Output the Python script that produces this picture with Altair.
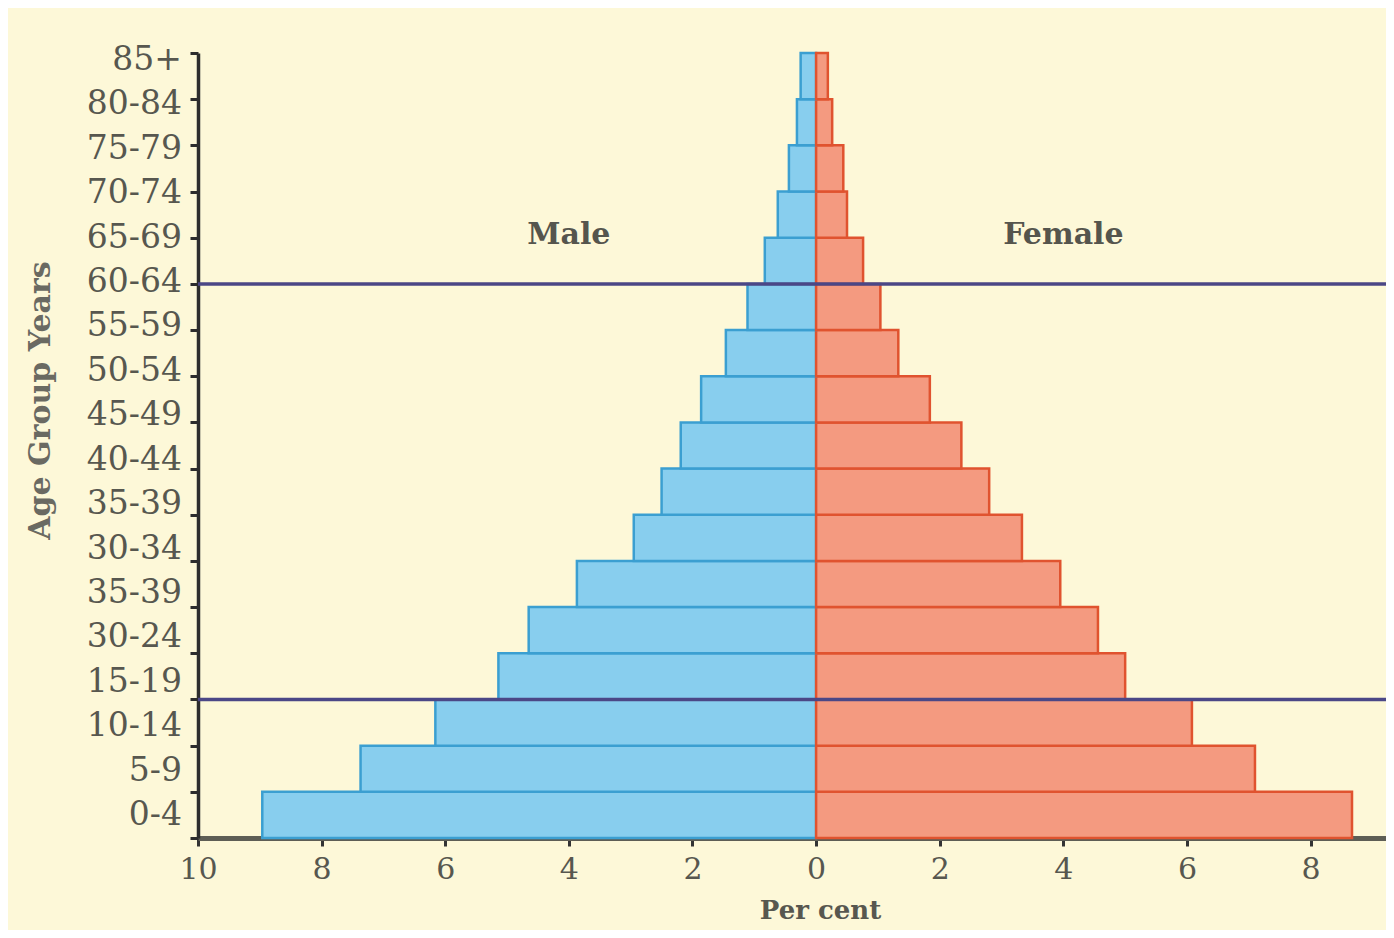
import altair as alt
import pandas as pd

# ---- data ----
age_labels = ["0-4", "5-9", "10-14", "15-19", "30-24", "35-39", "30-34", "35-39",
              "40-44", "45-49", "50-54", "55-59", "60-64", "65-69", "70-74",
              "75-79", "80-84", "85+"]
# bars sit between consecutive ticks, bottom (0) to top (16)
male_pct = [8.96, 7.37, 6.16, 5.14, 4.65, 3.87, 2.95, 2.50, 2.19, 1.86,
            1.46, 1.11, 0.83, 0.62, 0.44, 0.31, 0.25]
female_pct = [8.67, 7.10, 6.08, 5.00, 4.56, 3.95, 3.33, 2.80, 2.35, 1.84,
              1.33, 1.04, 0.76, 0.50, 0.44, 0.26, 0.19]
x_tick_values = [-10, -8, -6, -4, -2, 0, 2, 4, 6, 8]
divider_ticks = [3, 12]
sex_names = ["Male", "Female"]
annot_x = [-4.0, 4.0]
annot_y = [13.05, 13.05]

n_bars = len(male_pct)
rows = []
for i in range(n_bars):
    rows.append({"lo": i, "hi": i + 1, "sex": "Male", "start": -male_pct[i], "end": 0})
    rows.append({"lo": i, "hi": i + 1, "sex": "Female", "start": 0, "end": female_pct[i]})
bars_df = pd.DataFrame(rows)
labels_df = pd.DataFrame({"idx": list(range(len(age_labels))), "label": age_labels})
div_df = pd.DataFrame({"tick": divider_ticks})
annot_df = pd.DataFrame({"text": sex_names, "x": annot_x, "y": annot_y})

W, H = 1188, 785
SERIF = "DejaVu Serif"
TXT = "#57574f"

xscale = alt.Scale(domain=[-10, 9.22], nice=False, zero=False)
yscale = alt.Scale(domain=[0, n_bars], nice=False, zero=False)

bars = alt.Chart(bars_df).mark_bar(strokeWidth=2.5).encode(
    x=alt.X("start:Q", scale=xscale,
            axis=alt.Axis(values=x_tick_values, labelExpr="format(abs(datum.value), 'd')",
                          grid=False, domainColor="#5e5e55", domainWidth=5,
                          tickColor="#333333", tickWidth=3, tickSize=8,
                          labelFont=SERIF, labelFontSize=30, labelColor=TXT,
                          labelFlush=False, labelPadding=8,
                          title="Per cent", titleFont=SERIF,
                          titleFontSize=26, titleFontWeight="bold", titleColor=TXT,
                          titleX=622, titleY=72, titleBaseline="middle",
                          titleAlign="center")),
    x2="end:Q",
    y=alt.Y("lo:Q", scale=yscale,
            axis=alt.Axis(values=list(range(n_bars + 1)), labels=False, grid=False,
                          domainColor="#2d2d2d", domainWidth=3.5,
                          tickColor="#2d2d2d", tickWidth=3, tickSize=8,
                          title="Age Group Years", titleFont=SERIF, titleFontSize=30,
                          titleFontWeight="bold", titleColor="#6a6a62",
                          titleX=-158, titleY=347, titleAngle=270,
                          titleAlign="center", titleBaseline="middle")),
    y2="hi:Q",
    fill=alt.Fill("sex:N", scale=alt.Scale(domain=sex_names, range=["#88ceee", "#f49a80"]),
                  legend=None),
    stroke=alt.Stroke("sex:N", scale=alt.Scale(domain=sex_names, range=["#3b9fd1", "#e0532f"]),
                      legend=None),
)

rules = alt.Chart(div_df).mark_rule(color="#4b4786", strokeWidth=3.5).encode(
    y=alt.Y("tick:Q", scale=yscale, axis=None),
    x=alt.value(0),
    x2=alt.value(W),
)

labels = alt.Chart(labels_df).mark_text(
    align="right", baseline="middle", font=SERIF, fontSize=33, color=TXT
).encode(
    y=alt.Y("idx:O", scale=alt.Scale(type="point", range=[762, 7], padding=0),
            axis=None, sort="ascending"),
    x=alt.value(-16),
    text="label:N",
)

annots = alt.Chart(annot_df).mark_text(
    font=SERIF, fontSize=30, fontWeight="bold", color="#55554d", baseline="middle"
).encode(
    x=alt.X("x:Q", scale=xscale),
    y=alt.Y("y:Q", scale=yscale, axis=None),
    text="text:N",
)

chart = alt.layer(bars, rules, annots, labels).resolve_scale(y="independent").properties(
    width=W, height=H,
    padding={"left": 190, "top": 45, "right": 0, "bottom": 92},
    autosize=alt.AutoSizeParams(type="none"),
    background="#fdf8d8",
).configure_view(stroke=None)

chart.save("out.html", embed_options={"renderer": "svg", "actions": False})
